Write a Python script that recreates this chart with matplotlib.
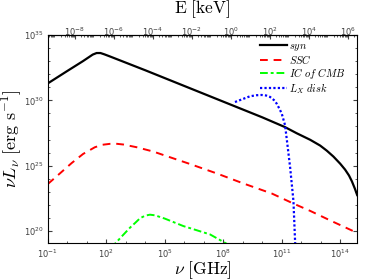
import matplotlib
matplotlib.use("Agg")
import matplotlib.pyplot as plt
import matplotlib.ticker as mticker
import numpy as np

# log10(nu / GHz), log10(nu L_nu / erg s^-1)
syn_lognu = [-1.0, 0.0, 0.8, 1.1, 1.3, 1.5, 1.7, 1.9, 2.2, 4.0, 6.0, 8.0,
             10.0, 11.17, 11.77, 12.46, 12.97, 13.31, 13.65, 14.0, 14.25,
             14.45, 14.6, 14.75, 14.87]
syn_logL = [31.3, 32.25, 33.0, 33.3, 33.5, 33.62, 33.62, 33.52, 33.35, 32.3,
            31.1, 29.9, 28.7, 27.95, 27.48, 26.98, 26.54, 26.15, 25.7, 25.15,
            24.7, 24.25, 23.8, 23.25, 22.75]

ssc_lognu = [-1.0, -0.38, 0.22, 0.81, 1.41, 1.8, 2.18, 2.5, 2.87, 3.56, 4.41,
             4.92, 6.29, 7.66, 9.03, 10.49, 11.6, 12.46, 13.5, 14.66]
ssc_logL = [23.6, 24.41, 25.2, 25.9, 26.41, 26.6, 26.67, 26.68, 26.62, 26.41,
            26.08, 25.82, 25.13, 24.41, 23.64, 22.87, 22.1, 21.54, 20.8, 20.0]

cmb_lognu = [2.2, 2.44, 2.8, 3.21, 3.5, 3.73, 4.0, 4.24, 4.5, 5.0, 5.95,
             7.32, 8.18, 8.4]
cmb_logL = [18.7, 19.02, 19.6, 20.25, 20.65, 20.98, 21.18, 21.25, 21.2, 20.95,
            20.38, 19.74, 19.02, 18.8]

disk_lognu = [8.6, 9.0, 9.37, 9.7, 9.97, 10.2, 10.4, 10.6, 10.74, 10.9, 11.0,
              11.17, 11.3, 11.43, 11.6, 11.69]
disk_logL = [29.87, 30.1, 30.31, 30.39, 30.41, 30.37, 30.26, 30.02, 29.75,
             29.3, 28.98, 28.1, 26.5, 24.87, 22.3, 19.0]

xtick_exp = [-1, 2, 5, 8, 11, 14]
ytick_exp = [20, 25, 30, 35]
etick_exp = [-8, -6, -4, -2, 0, 2, 4, 6]

GHZ_PER_KEV = 2.418e8

plt.rcParams['mathtext.fontset'] = 'cm'
plt.rcParams['font.family'] = 'DejaVu Sans'

fig = plt.figure(figsize=(3.74, 2.8), dpi=100)
ax = fig.add_axes([0.128, 0.132, 0.827, 0.743])

def p10(a):
    return 10.0 ** np.asarray(a, dtype=float)

ax.plot(p10(syn_lognu), p10(syn_logL), color='black', lw=1.6, label='$syn$')
ax.plot(p10(ssc_lognu), p10(ssc_logL), color='red', lw=1.4, ls=(0, (4, 3)),
        label='$SSC$')
ax.plot(p10(cmb_lognu), p10(cmb_logL), color='#00ff00', lw=1.4,
        ls=(0, (4, 1.5, 1.5, 1.5)), label='$IC\\ of\\ CMB$')
ax.plot(p10(disk_lognu), p10(disk_logL), color='blue', lw=1.6,
        ls=(0, (1, 1)), label='$L_X\\ disk$')

ax.set_xscale('log')
ax.set_yscale('log')
ax.set_xlim(10.0 ** -1, 10.0 ** 14.87)
ax.set_ylim(10.0 ** 19.08, 10.0 ** 35)

ax.xaxis.set_major_locator(mticker.FixedLocator(p10(xtick_exp)))
ax.xaxis.set_minor_locator(mticker.FixedLocator(p10(np.arange(-1, 15))))
ax.yaxis.set_major_locator(mticker.FixedLocator(p10(ytick_exp)))
ax.yaxis.set_minor_locator(mticker.FixedLocator(p10(np.arange(19, 36))))
ax.xaxis.set_major_formatter(mticker.LogFormatterSciNotation())
ax.yaxis.set_major_formatter(mticker.LogFormatterSciNotation())
ax.xaxis.set_minor_formatter(mticker.NullFormatter())
ax.yaxis.set_minor_formatter(mticker.NullFormatter())

ax.tick_params(which='both', direction='in', top=False, right=True,
               labelsize=6, colors='#404040', pad=3)
ax.tick_params(which='major', length=3)
ax.tick_params(which='minor', length=1.5)

sec = ax.secondary_xaxis('top', functions=(lambda x: x / GHZ_PER_KEV,
                                           lambda e: e * GHZ_PER_KEV))
sec.set_xscale('log')
sec.xaxis.set_major_locator(mticker.FixedLocator(p10(etick_exp)))
sec.xaxis.set_minor_locator(mticker.LogLocator(base=10, subs=np.arange(2, 10),
                                               numticks=50))
sec.xaxis.set_major_formatter(mticker.LogFormatterSciNotation())
sec.xaxis.set_minor_formatter(mticker.NullFormatter())
sec.tick_params(which='both', direction='in', labelsize=6, colors='#404040',
                pad=-2.5)
sec.tick_params(which='major', length=3)
sec.tick_params(which='minor', length=1.5)

# top axis title placed by hand so it clears the tick labels
fig.text(0.541, 1 - 9.5 / 280, r'$\mathrm{E\ [keV]}$', fontsize=12.5,
         ha='center', va='center')

ax.set_xlabel(r'$\nu\ [\mathrm{GHz}]$', fontsize=12.5, labelpad=0)
ax.set_ylabel(r'$\nu L_\nu\ [\mathrm{erg\ s^{-1}}]$', fontsize=13, labelpad=0)

for s in ax.spines.values():
    s.set_linewidth(0.8)

ax.legend(loc='upper right', bbox_to_anchor=(0.975, 0.992), frameon=False,
          fontsize=7.6, handlelength=2.5, labelspacing=0.0,
          handletextpad=0.2, borderaxespad=0)

fig.savefig('out.png', dpi=100)
